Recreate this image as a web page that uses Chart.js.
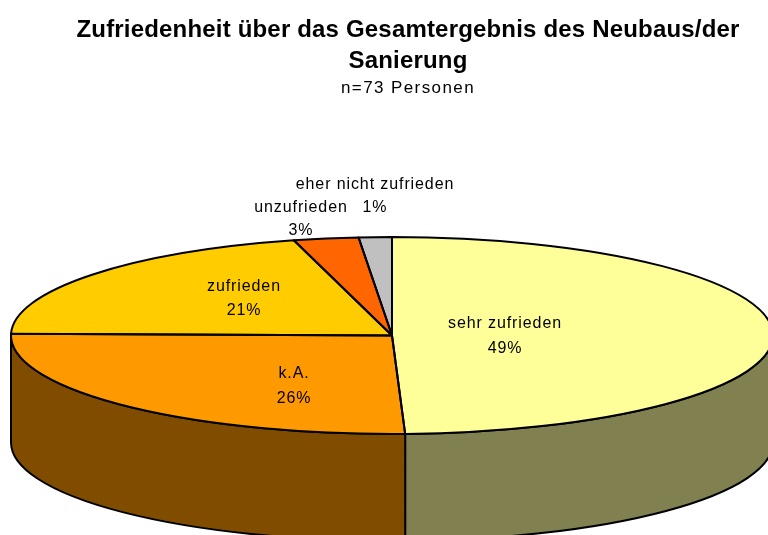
<!DOCTYPE html>
<html>
<head>
<meta charset="utf-8">
<script src="https://cdn.jsdelivr.net/npm/chart.js@4"></script>
<style>
    html, body { margin: 0; background: #fff; }
    canvas { display: block; }
</style>
</head>
<body>
<canvas id="pie" width="768" height="535"></canvas>
<script>
    const categories = ['sehr zufrieden', 'k.A.', 'zufrieden', 'unzufrieden', 'eher nicht zufrieden'];
    const shares = [49.45, 25.85, 20.55, 2.75, 1.4];
    const percentLabels = ['49%', '26%', '21%', '3%', '1%'];
    const sliceColors = ['#FFFF99', '#FF9900', '#FFCC00', '#FF6600', '#C0C0C0'];
    const wallColors = ['#808050', '#804D00', '#806600', '#803300', '#606060'];
    const labelSpots = [[505, 324, 349], [294, 374, 399], [244, 287, 311], [301, 208, 231], [375, 185, 208]];

    const radius = 381;
    const squash = 98.5 / 381;
    const depth = 107;
    const shiftX = -16;

    function tilt(ctx, arc) {
        ctx.translate(arc.x + shiftX, arc.y);
        ctx.scale(1, squash);
        ctx.translate(-arc.x, -arc.y);
    }

    const pie3d = {
        id: 'pie3d',
        beforeDraw(chart) {
            chart.ctx.letterSpacing = '0.18px';
        },
        beforeDatasetsDraw(chart) {
            const ctx = chart.ctx;
            chart.getDatasetMeta(0).data.forEach((arc, i) => {
                const a = Math.max(arc.startAngle, 0);
                const b = Math.min(arc.endAngle, Math.PI);
                if (a >= b) return;
                const cx = arc.x + shiftX;
                const ry = radius * squash;
                ctx.beginPath();
                ctx.ellipse(cx, arc.y, radius, ry, 0, a, b);
                ctx.ellipse(cx, arc.y + depth, radius, ry, 0, b, a, true);
                ctx.closePath();
                ctx.fillStyle = wallColors[i];
                ctx.fill();
                ctx.strokeStyle = '#000';
                ctx.lineWidth = 2;
                ctx.stroke();
            });
            ctx.save();
            tilt(ctx, chart.getDatasetMeta(0).data[0]);
        },
        afterDatasetsDraw(chart) {
            const ctx = chart.ctx;
            ctx.restore();
            chart.getDatasetMeta(0).data.forEach(arc => {
                ctx.save();
                tilt(ctx, arc);
                ctx.beginPath();
                ctx.moveTo(arc.x, arc.y);
                ctx.arc(arc.x, arc.y, arc.outerRadius, arc.startAngle, arc.endAngle);
                ctx.closePath();
                ctx.restore();
                ctx.strokeStyle = '#000';
                ctx.lineWidth = 2;
                ctx.lineJoin = 'round';
                ctx.stroke();
            });
        },
        afterDraw(chart) {
            const ctx = chart.ctx;
            ctx.save();
            ctx.fillStyle = '#000';
            ctx.textAlign = 'center';
            ctx.textBaseline = 'middle';
            ctx.font = '17px "Liberation Sans"';
            ctx.letterSpacing = '1.4px';
            ctx.fillText('n=73 Personen', 408, 88);
            ctx.font = '16px "Liberation Sans"';
            ctx.letterSpacing = '0.9px';
            categories.forEach((name, i) => {
                const s = labelSpots[i];
                ctx.fillText(name, s[0], s[1]);
                ctx.fillText(percentLabels[i], s[0], s[2]);
            });
            ctx.restore();
        }
    };

    new Chart(document.getElementById('pie'), {
        type: 'pie',
        data: {
            labels: categories,
            datasets: [{ data: shares, backgroundColor: sliceColors, borderWidth: 0, clip: false }]
        },
        options: {
            responsive: false,
            animation: false,
            radius: radius,
            layout: { padding: { top: 15, left: 48 } },
            plugins: {
                legend: { display: false },
                tooltip: { enabled: false },
                title: {
                    display: true,
                    text: ['Zufriedenheit über das Gesamtergebnis des Neubaus/der', 'Sanierung'],
                    color: '#000',
                    font: { family: '"Liberation Sans"', size: 24, weight: 'bold', lineHeight: 31 / 24 },
                    padding: { top: 0, bottom: 59 }
                }
            }
        },
        plugins: [pie3d]
    });
</script>
</body>
</html>
